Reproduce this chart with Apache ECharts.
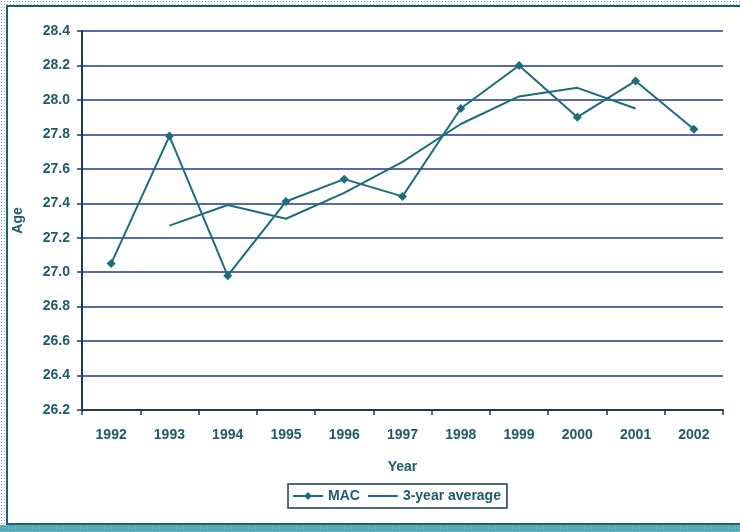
<!DOCTYPE html>
<html>
<head>
<meta charset="utf-8">
<script src="https://cdn.jsdelivr.net/npm/echarts@6/dist/echarts.min.js"></script>
<style>
  html, body { margin: 0; padding: 0; background: #fff; }
  #wrap { position: relative; width: 740px; height: 532px; overflow: hidden; background: #fff; }
  #chart { position: absolute; left: 0; top: 0; width: 740px; height: 532px; }
  .band { position: absolute; pointer-events: none;
          background-image: radial-gradient(circle, #7fa9b0 0.8px, transparent 1px);
          background-size: 3px 3px; }
  .rule { position: absolute; pointer-events: none; background: #1d5f6e; }
</style>
</head>
<body>
<div id="wrap">
  <div id="chart"></div>
  <!-- dotted frame round the chart -->
  <div class="band" style="left:0;top:0;width:740px;height:5px;"></div>
  <div class="band" style="left:0;top:0;width:6px;height:532px;"></div>
  <div class="band" style="left:0;top:525px;width:740px;height:7px;background-image:radial-gradient(circle,#2d8a9a 0.9px,#5fb0bd 1px);"></div>
  <div class="rule" style="left:6px;top:5px;width:734px;height:2px;"></div>
  <div class="rule" style="left:6px;top:5px;width:2px;height:520px;"></div>
  <div class="rule" style="left:6px;top:523px;width:734px;height:2px;"></div>
</div>
<script>
// Mean age at childbirth (MAC) by year, with its 3-year moving average
const years = ['1992', '1993', '1994', '1995', '1996', '1997', '1998', '1999', '2000', '2001', '2002'];
const macValues = [27.05, 27.79, 26.98, 27.41, 27.54, 27.44, 27.95, 28.20, 27.90, 28.11, 27.83];
const avgValues = [null, 27.27, 27.39, 27.31, 27.46, 27.64, 27.86, 28.02, 28.07, 27.95, null];
const yTicks = { min: 26.2, max: 28.4, step: 0.2 };

const lineColor = '#1c6c7c';
const textColor = '#1e5a6a';
const gridColor = '#1f3a8a';
const axisColor = '#1c3a55';

// plain line icon for the legend (tiny specks at top and bottom keep the 30x10 box)
const plainLineIcon = 'path://M0,4.1 L30,4.1 L30,5.9 L0,5.9 Z M15,0 L15.01,0 L15,0.01 Z M15,10 L15.01,10 L15,9.99 Z';

const chart = echarts.init(document.getElementById('chart'));
chart.setOption({
  animation: false,
  textStyle: { fontFamily: 'Liberation Sans, Arial, sans-serif' },
  grid: { left: 82, right: 17, top: 31, bottom: 122 },
  xAxis: {
    type: 'category',
    data: years,
    boundaryGap: true,
    name: 'Year',
    nameLocation: 'middle',
    nameGap: 50,
    nameTextStyle: { color: textColor, fontWeight: 'bold', fontSize: 14 },
    axisLine: { lineStyle: { color: axisColor, width: 2 } },
    axisTick: { show: true, length: 5, lineStyle: { color: axisColor, width: 1.5 } },
    axisLabel: { color: textColor, fontWeight: 'bold', fontSize: 14, margin: 18 },
    splitLine: { show: false }
  },
  yAxis: {
    type: 'value',
    min: yTicks.min,
    max: yTicks.max,
    interval: yTicks.step,
    name: 'Age',
    nameLocation: 'middle',
    nameRotate: 90,
    nameGap: 57,
    nameTextStyle: { color: textColor, fontWeight: 'bold', fontSize: 14 },
    axisLine: { show: true, lineStyle: { color: axisColor, width: 2 } },
    axisTick: { show: true, length: 5, lineStyle: { color: axisColor, width: 1.5 } },
    axisLabel: { color: textColor, fontWeight: 'bold', fontSize: 14, margin: 12,
                 formatter: v => v.toFixed(1) },
    splitLine: { show: true, lineStyle: { color: gridColor, width: 1.6 } }
  },
  legend: {
    left: 288,
    top: 484,
    itemWidth: 30,
    itemHeight: 10,
    itemGap: 8,
    padding: [5, 6, 5, 4],
    borderColor: '#1c3a55',
    borderWidth: 1.5,
    textStyle: { color: textColor, fontWeight: 'bold', fontSize: 14 },
    data: [
      { name: 'MAC' },
      { name: '3-year average', icon: plainLineIcon }
    ]
  },
  series: [
    {
      name: 'MAC',
      type: 'line',
      data: macValues,
      symbol: 'diamond',
      symbolSize: 9,
      lineStyle: { color: lineColor, width: 2 },
      itemStyle: { color: lineColor }
    },
    {
      name: '3-year average',
      type: 'line',
      data: avgValues,
      symbol: 'none',
      lineStyle: { color: lineColor, width: 2 },
      itemStyle: { color: lineColor }
    }
  ]
});
</script>
</body>
</html>
